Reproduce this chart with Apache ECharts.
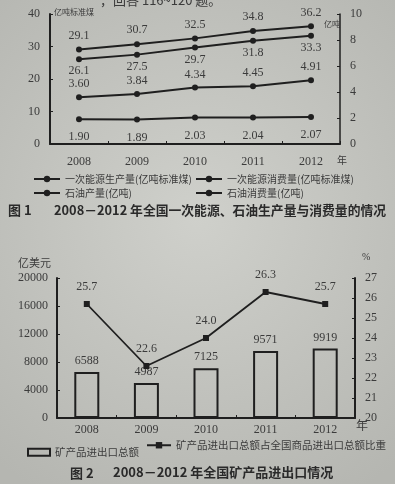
<!DOCTYPE html>
<html>
<head>
<meta charset="utf-8">
<script src="https://cdn.jsdelivr.net/npm/echarts@6/dist/echarts.min.js"></script>
<style>
html,body{margin:0;padding:0;background:#c6c7c2;}
#c{width:395px;height:484px;}
</style>
</head>
<body>
<div id="c"></div>
<script>
const years = ['2008', '2009', '2010', '2011', '2012'];
const energyProd = [26.1, 27.5, 29.7, 31.8, 33.3];
const energyCons = [29.1, 30.7, 32.5, 34.8, 36.2];
const oilProd = [1.90, 1.89, 2.03, 2.04, 2.07];
const oilCons = [3.60, 3.84, 4.34, 4.45, 4.91];
const mineralTrade = [6588, 4987, 7125, 9571, 9919];
const mineralShare = [25.7, 22.6, 24.0, 26.3, 25.7];

const ink = '#1f1f1f';
const txt = '#3b3b3b';
const serif = '"Liberation Serif", "DejaVu Serif", serif';
const cjk = '"Noto Sans CJK SC", sans-serif';

const chart = echarts.init(document.getElementById('c'), null, {renderer: 'canvas'});

function lineSeries(name, data, yi, xi, pos, dist, dec) {
  return {
    name: name, type: 'line', data: data, xAxisIndex: xi, yAxisIndex: yi,
    symbol: 'circle', symbolSize: 6,
    lineStyle: {color: ink, width: 2}, itemStyle: {color: ink},
    label: {show: true, position: pos, distance: dist, color: txt, fontFamily: serif, fontSize: 12,
      formatter: p => p.value.toFixed(dec)},
    z: 3
  };
}

const axisLine = w => ({show: true, lineStyle: {color: ink, width: w}});
const axisLabel = (m) => ({color: txt, fontFamily: serif, fontSize: 12, margin: m, formatter: v => String(v)});

chart.setOption({
  backgroundColor: {
    type: 'radial', x: 0.5, y: 0.45, r: 0.8,
    colorStops: [{offset: 0, color: '#cfd0cb'}, {offset: 1, color: '#b5b6b1'}]
  },
  animation: false,
  grid: [
    {left: 50, right: 55, top: 14, height: 130},
    {left: 57, right: 40, top: 278, height: 140}
  ],
  xAxis: [
    {gridIndex: 0, type: 'category', data: years, boundaryGap: true,
     axisLine: axisLine(2), axisTick: {show: true, inside: true, length: 3, lineStyle: {color: ink}},
     axisLabel: axisLabel(12)},
    {gridIndex: 1, type: 'category', data: years, boundaryGap: true,
     axisLine: axisLine(2), axisTick: {show: true, inside: true, length: 3, lineStyle: {color: ink}},
     axisLabel: axisLabel(6)}
  ],
  yAxis: [
    {gridIndex: 0, type: 'value', min: 0, max: 40, interval: 10, position: 'left',
     axisLine: axisLine(2), axisTick: {show: true, inside: true, length: 3, lineStyle: {color: ink}},
     splitLine: {show: false}, axisLabel: axisLabel(10)},
    {gridIndex: 0, type: 'value', min: 0, max: 10, interval: 2, position: 'right',
     axisLine: axisLine(1.5), axisTick: {show: true, inside: true, length: 3, lineStyle: {color: ink}},
     splitLine: {show: false}, axisLabel: axisLabel(10)},
    {gridIndex: 1, type: 'value', min: 0, max: 20000, interval: 4000, position: 'left',
     axisLine: axisLine(2), axisTick: {show: true, inside: true, length: 3, lineStyle: {color: ink}},
     splitLine: {show: false}, axisLabel: axisLabel(9)},
    {gridIndex: 1, type: 'value', min: 20, max: 27, interval: 1, position: 'right',
     axisLine: axisLine(2), axisTick: {show: true, inside: true, length: 3, lineStyle: {color: ink}},
     splitLine: {show: false}, axisLabel: axisLabel(10)}
  ],
  legend: [
    {data: ['一次能源生产量(亿吨标准煤)'], left: 33, top: 174, itemWidth: 26, itemHeight: 8, itemGap: 4,
     textStyle: {color: txt, fontFamily: cjk, fontSize: 10}, padding: 0},
    {data: ['一次能源消费量(亿吨标准煤)'], left: 195, top: 174, itemWidth: 26, itemHeight: 8, itemGap: 4,
     textStyle: {color: txt, fontFamily: cjk, fontSize: 10}, padding: 0},
    {data: ['石油产量(亿吨)'], left: 33, top: 188, itemWidth: 26, itemHeight: 8, itemGap: 4,
     textStyle: {color: txt, fontFamily: cjk, fontSize: 10}, padding: 0},
    {data: ['石油消费量(亿吨)'], left: 195, top: 188, itemWidth: 26, itemHeight: 8, itemGap: 4,
     textStyle: {color: txt, fontFamily: cjk, fontSize: 10}, padding: 0},
    {data: [{name: '矿产品进出口总额', icon: 'rect', itemStyle: {color: 'rgba(0,0,0,0)', borderColor: ink, borderWidth: 2}}],
     left: 27, top: 447, itemWidth: 22, itemHeight: 7, itemGap: 3,
     textStyle: {color: txt, fontFamily: cjk, fontSize: 10.5}, padding: 0},
    {data: ['矿产品进出口总额占全国商品进出口总额比重'], left: 146, top: 440, itemWidth: 24, itemHeight: 8, itemGap: 3,
     textStyle: {color: txt, fontFamily: cjk, fontSize: 10.5}, padding: 0}
  ],
  series: [
    lineSeries('一次能源生产量(亿吨标准煤)', energyProd, 0, 0, 'bottom', 3, 1),
    lineSeries('一次能源消费量(亿吨标准煤)', energyCons, 0, 0, 'top', 5, 1),
    lineSeries('石油产量(亿吨)', oilProd, 1, 0, 'bottom', 9, 2),
    lineSeries('石油消费量(亿吨)', oilCons, 1, 0, 'top', 4, 2),
    {name: '矿产品进出口总额', type: 'bar', data: mineralTrade, xAxisIndex: 1, yAxisIndex: 2,
     barWidth: 25,
     itemStyle: {color: 'rgba(0,0,0,0)', borderColor: ink, borderWidth: 2},
     label: {show: true, position: 'top', distance: 5, color: txt, fontFamily: serif, fontSize: 12},
     z: 2},
    {name: '矿产品进出口总额占全国商品进出口总额比重', type: 'line', data: mineralShare, xAxisIndex: 1, yAxisIndex: 3,
     symbol: 'rect', symbolSize: 6,
     lineStyle: {color: ink, width: 1.8}, itemStyle: {color: ink},
     label: {show: true, position: 'top', distance: 8, color: txt, fontFamily: serif, fontSize: 12,
       formatter: p => p.value.toFixed(1)},
     z: 3}
  ],
  graphic: [
    {type: 'text', left: 100, top: -6, style: {text: '，回答 116~120 题。', fill: txt, font: '13px ' + cjk}},
    {type: 'text', left: 54, top: 8, style: {text: '亿吨标准煤', fill: txt, font: '8px ' + cjk}},
    {type: 'text', left: 324, top: 20, style: {text: '亿吨', fill: txt, font: '8px ' + cjk}},
    {type: 'text', left: 337, top: 155, style: {text: '年', fill: txt, font: '10px ' + cjk}},
    {type: 'text', left: 8, top: 204, style: {text: '图 1', fill: '#2a2a2a', font: 'bold 13px ' + cjk}},
    {type: 'text', left: 54, top: 204, style: {text: '2008－2012 年全国一次能源、石油生产量与消费量的情况', fill: '#2a2a2a', font: 'bold 12.8px ' + cjk}},
    {type: 'text', left: 18, top: 257, style: {text: '亿美元', fill: txt, font: '11px ' + cjk}},
    {type: 'text', left: 362, top: 252, style: {text: '%', fill: txt, font: '10px ' + serif}},
    {type: 'text', left: 356, top: 419, style: {text: '年', fill: txt, font: '12px ' + cjk}},
    {type: 'text', left: 70, top: 467, style: {text: '图 2', fill: '#2a2a2a', font: 'bold 13px ' + cjk}},
    {type: 'text', left: 113, top: 466, style: {text: '2008－2012 年全国矿产品进出口情况', fill: '#2a2a2a', font: 'bold 13px ' + cjk}}
  ]
});
</script>
</body>
</html>
